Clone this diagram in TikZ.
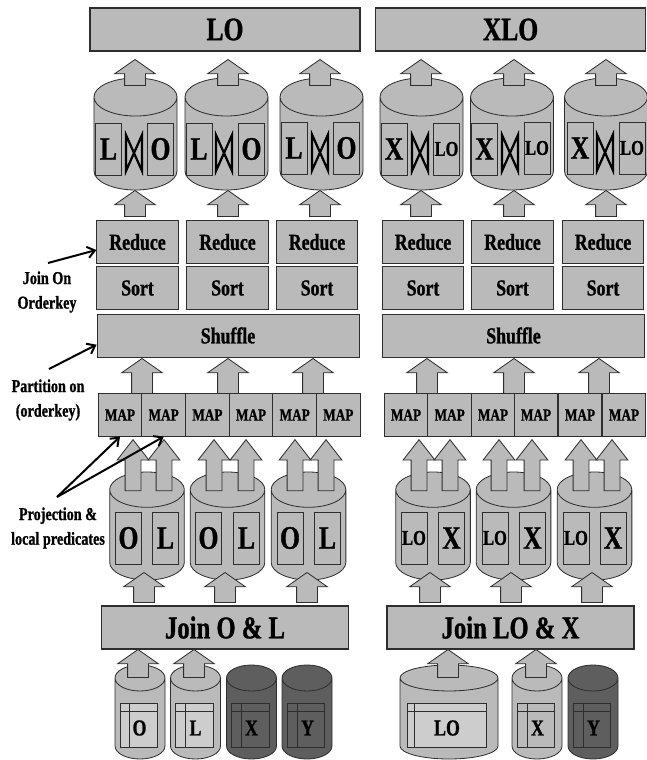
\documentclass[tikz,border=0pt]{standalone}
\usepackage{fontspec}
\setmainfont[FakeStretch=0.78,BoldFeatures={FakeBold=1}]{Liberation Serif}
\usepackage{tikz}
\usetikzlibrary{arrows.meta,shapes.geometric,shapes.arrows}
\definecolor{JobGray}{HTML}{BABABA}
\definecolor{JobLight}{HTML}{CDCDCD}
\definecolor{JobDark}{HTML}{5E5E5E}
\definecolor{JobLine}{HTML}{2E2E2E}
\tikzset{
  procbox/.style={draw=JobLine,fill=JobGray,line width=0.8pt,inner sep=0pt,font=\bfseries\fontsize{19.5}{22}\selectfont},
  titlebox/.style={procbox,line width=1.3pt,minimum width=8.1cm,minimum height=1.29cm,font=\bfseries\fontsize{28}{30}\selectfont},
  joinbox/.style={procbox,line width=1.3pt,minimum width=7.42cm,minimum height=1.29cm,font=\bfseries\fontsize{27}{30}\selectfont},
  redbox/.style={procbox,minimum width=2.44cm,minimum height=1.27cm},
  shufbox/.style={procbox,minimum width=7.86cm,minimum height=1.29cm},
  mapbox/.style={procbox,minimum width=1.31cm,minimum height=1.27cm,font=\bfseries\fontsize{14.5}{16}\selectfont},
  dbcyl/.style={cylinder,shape border rotate=90,anchor=shape center,draw=JobLine,line width=0.7pt,fill=JobGray,inner ysep=0pt},
  topcyl/.style={dbcyl,inner xsep=1.245cm,shape aspect=0.458,minimum width=2.49cm,minimum height=3.36cm},
  midcyl/.style={dbcyl,inner xsep=1.12cm,shape aspect=0.473,minimum width=2.24cm,minimum height=3.24cm},
  basecyl/.style={dbcyl,inner xsep=0.75cm,shape aspect=0.52,minimum width=1.5cm,minimum height=2.82cm},
  widecyl/.style={dbcyl,inner xsep=1.47cm,shape aspect=0.265,minimum width=2.94cm,minimum height=2.82cm},
  inbox/.style={procbox,minimum width=0.78cm,minimum height=1.56cm,font=\bfseries\fontsize{28}{30}\selectfont},
  inboxs/.style={inbox,font=\bfseries\fontsize{18}{20}\selectfont},
  tbl/.style={draw=JobLine,line width=0.8pt,inner sep=0pt,minimum width=1.13cm,minimum height=1.32cm,font=\bfseries\fontsize{19.5}{22}\selectfont},
  bigarrow/.style={single arrow,shape border rotate=90,anchor=tip,draw=JobLine,line width=0.7pt,fill=JobGray,inner ysep=0pt,inner xsep=0.3cm,
    single arrow tip angle=110,single arrow head extend=0.3cm,minimum width=1.2cm},
  twinarrow/.style={bigarrow,inner xsep=0.225cm,single arrow tip angle=76,single arrow head extend=0.24cm,minimum width=0.95cm,minimum height=1.53cm},
  notelbl/.style={inner sep=0pt,align=center,font=\bfseries\fontsize{15.5}{21}\selectfont},
  notearrow/.style={line width=1.7pt,-{Straight Barb[length=2.2mm,width=3.4mm]}},
  joinmark/.style={line width=1.9pt,line join=miter}
}
\newcommand{\joinmark}[2]{\draw[joinmark] (#1-8,#2-18) -- (#1+8,#2+18) -- (#1+8,#2-18) -- (#1-8,#2+18) -- cycle;}
\begin{document}
\begin{tikzpicture}[x=0.03cm,y=-0.03cm]
  \useasboundingbox (0,0) rectangle (646,760);
  % results
  \node[titlebox] (lo) at (225,29.5) {LO};
  \node[titlebox] (xlo) at (510.5,29.5) {XLO};
  % join output on the file system
  \foreach \nm/\cx in {cu1/135.5,cu2/226.5,cu3/321.5,cu4/421.5,cu5/512,cu6/606}
    \node[topcyl] (\nm) at (\cx,134) {};
  \foreach \nm/\cx/\cy/\txt/\sty in {
      ua/108.5/149/L/inbox,ub/199/149/L/inbox,uc/294/148/L/inbox,
      ud/394/149/X/inbox,ue/484.5/149/X/inbox,uf/580/148/X/inbox,
      va/160.5/149/O/inbox,vb/251.5/149/O/inbox,vc/346.5/148/O/inbox,
      vd/446.5/149/LO/inboxs,ve/537/148/LO/inboxs,vf/632/148/LO/inboxs}
    \node[\sty] (\nm) at (\cx,\cy) {\txt};
  \joinmark{134}{153}
  \joinmark{224}{153}
  \joinmark{320}{152.5}
  \joinmark{420}{153}
  \joinmark{510}{153}
  \joinmark{605}{152.5}
  \foreach \nm/\cx in {ap1/135,ap2/228,ap3/320,ap4/421,ap5/514,ap6/606}{
    \node[bigarrow,minimum height=0.78cm] (\nm) at (\cx,59) {};
    \node[bigarrow,minimum height=0.78cm] (\nm b) at (\cx,190) {};
  }
  % reduce side
  \foreach \nm/\cx in {1/137.5,2/227.5,3/317,4/423,5/512.5,6/603}{
    \node[redbox] (rd\nm) at (\cx,242) {Reduce};
    \node[redbox] (st\nm) at (\cx,288) {Sort};
  }
  \node[shufbox] (shl) at (228,335.5) {Shuffle};
  \node[shufbox] (shr) at (513.5,335.5) {Shuffle};
  \foreach \nm/\cx in {sa/142,sb/228,sc/313,sd/427,se/514,sf/599}
    \node[bigarrow,minimum height=1.05cm] (\nm) at (\cx,358) {};
  % map side
  \foreach \nm/\cx in {1/120,2/163.7,3/207.4,4/251,5/294.7,6/338.3,7/406,8/449.7,9/493,10/536,11/580,12/624}
    \node[mapbox] (m\nm) at (\cx,415) {MAP};
  \foreach \nm/\cx in {cm1/147,cm2/227.5,cm3/308.5,cm4/433,cm5/513.5,cm6/594.5}
    \node[midcyl] (\nm) at (\cx,526) {};
  \foreach \nm/\cl/\cr/\tl/\tr/\sty in {
      1/128.5/165.5/O/L/inbox,2/208.5/246.5/O/L/inbox,3/290/327.5/O/L/inbox,
      4/414/451.5/LO/X/inboxs,5/495/532.5/LO/X/inboxs,6/576/613/LO/X/inboxs}{
    \node[\sty] (pl\nm) at (\cl,538) {\tl};
    \node[inbox] (pr\nm) at (\cr,538) {\tr};
  }
  \foreach \nm/\cx in {ta/133,tb/164,tc/214,td/246,te/295,tf/326,tg/419,th/450,ti/499,tj/532,tk/581,tl/612}
    \node[twinarrow] (\nm) at (\cx,439) {};
  \foreach \nm/\cx in {ja/144,jb/225,jc/307,jd/430,je/511,jf/592}
    \node[bigarrow,minimum height=0.9cm] (\nm) at (\cx,572) {};
  % first joins
  \node[joinbox] (jl) at (225,627.5) {Join O \& L};
  \node[joinbox] (jr) at (510.5,627.5) {Join LO \& X};
  % input tables
  \foreach \nm/\cx/\bodyc/\tblc/\txt/\vx in {
      bo/140/JobGray/JobLight/O/129,bl/195.5/JobGray/JobLight/L/185,
      bx/251.5/JobDark/JobDark/X/241,by/307/JobDark/JobDark/Y/297,
      ex/537/JobGray/JobGray/X/527,ey/593/JobDark/JobDark/Y/583}{
    \node[basecyl,fill=\bodyc] (\nm) at (\cx,712) {};
    \node[tbl,fill=\tblc] (\nm t) at (\cx-1,725) {};
    \draw[line width=0.8pt,JobLine] (\nm t.north west |- 0,711) -- (\nm t.north east |- 0,711);
    \draw[line width=0.8pt,JobLine] (\vx,703) -- (\vx,747);
    \node[inner sep=0pt,font=\bfseries\fontsize{19.5}{22}\selectfont] (\nm l) at (\vx+10.5,728) {\txt};
  }
  \node[widecyl] (elo) at (449,712) {};
  \node[tbl,fill=JobLight,minimum width=2.37cm] (elot) at (446.5,725) {};
  \draw[line width=0.8pt,JobLine] (elot.north west |- 0,711) -- (elot.north east |- 0,711);
  \draw[line width=0.8pt,JobLine] (414,703) -- (414,747);
  \node[inner sep=0pt,font=\bfseries\fontsize{19.5}{22}\selectfont] (elol) at (447,728) {LO};
  \foreach \nm/\cx in {ba/138,bb/194,bc/448,bd/536}
    \node[bigarrow,minimum height=0.84cm] (\nm) at (\cx,649) {};
  % notes on the left
  \node[notelbl] (joinlbl) at (47,292) {Join On\\Orderkey};
  \node[notelbl] (partlbl) at (48,400) {Partition on\\(orderkey)};
  \node[notelbl] (projlbl) at (58,528) {Projection \&\\local predicates};
  \coordinate (joinend) at (48,263);
  \coordinate (partend) at (49,369);
  \coordinate (projend) at (57,497);
  \draw[notearrow] (joinend) -- (rd1.191);
  \draw[notearrow] (partend) -- (shl.184);
  \draw[notearrow] (projend) -- (m1.south);
  \draw[notearrow] (projend) -- (m2.south);
\end{tikzpicture}
\end{document}
